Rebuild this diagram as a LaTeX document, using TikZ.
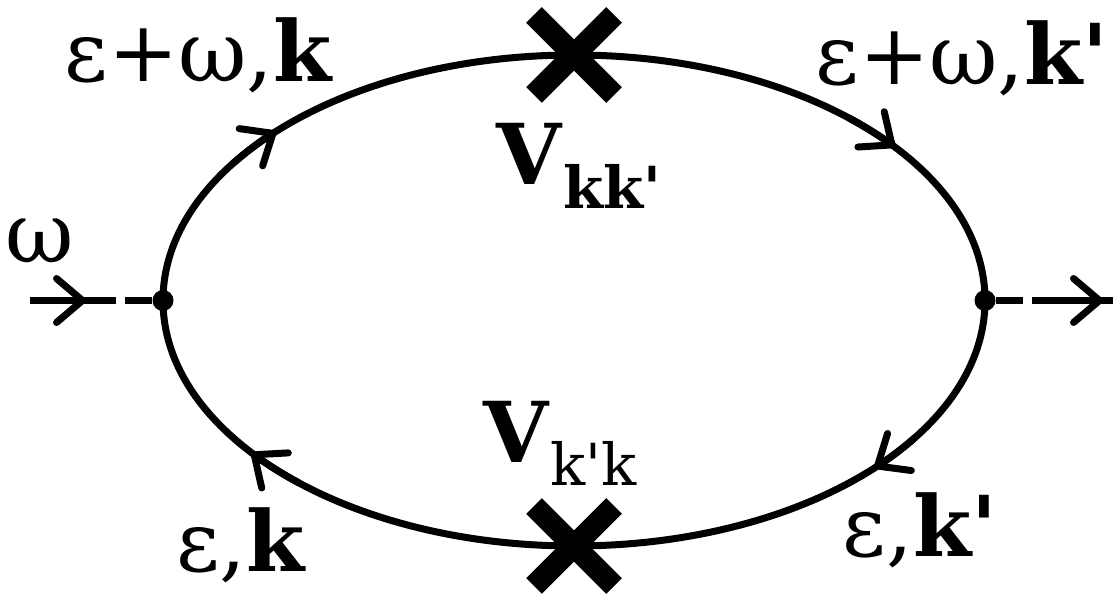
\documentclass[tikz,border=0pt]{standalone}
\usepackage{fontspec}
\setmainfont{DejaVu Serif}
\usetikzlibrary{arrows.meta,shapes.misc}
\begin{document}
\begin{tikzpicture}[x=1pt,y=1pt,
  prop/.style={line width=7pt},
  barb/.style={-{Straight Barb[round,length=26pt,width=44pt]}, line width=7pt},
  vert/.style={circle,fill,inner sep=0pt,minimum size=21pt},
  imp/.style={cross out,draw,line width=22pt,minimum size=58pt,inner sep=0pt},
  lbl/.style={font=\fontsize{84}{90}\selectfont, inner sep=0pt, anchor=base},
  dashline/.style={line width=7pt,dash pattern=on 27pt off 9pt},
]
\useasboundingbox (0,0) rectangle (1113,594);
\coordinate (C) at (574,293.5);
% loop
\draw[prop] (C) ellipse [x radius=411, y radius=245.5];
% propagator arrows
\draw[barb] ([shift={(146:411 and 245.5)}]C) arc[start angle=146,end angle=136.5,x radius=411,y radius=245.5];
\draw[barb] ([shift={(48:411 and 245.5)}]C) arc[start angle=48,end angle=38.7,x radius=411,y radius=245.5];
\draw[barb] ([shift={(-34:411 and 245.5)}]C) arc[start angle=-34,end angle=-43,x radius=411,y radius=245.5];
\draw[barb] ([shift={(228:411 and 245.5)}]C) arc[start angle=228,end angle=218.3,x radius=411,y radius=245.5];
% vertices
\node[vert] (L) at (163,293.5) {};
\node[vert] (R) at (985,293.5) {};
% impurity crosses
\node[imp] (T) at (574,539) {};
\node[imp] (B) at (574,48) {};
% external lines
\coordinate (win) at (30,293.5);
\coordinate (lm) at (92,293.5);
\coordinate (ltip) at (86,293.5);
\coordinate (rm) at (1057,293.5);
\coordinate (rtip) at (1103,293.5);
\coordinate (wout) at (1113,293.5);
\draw[dashline] (L) -- (lm);
\draw[prop] (win) -- (lm);
\draw[barb] (win) -- (ltip);
\draw[dashline] (R) -- (rm);
\draw[prop] (rm) -- (wout);
\draw[barb] (rm) -- (rtip);
% labels
\node[lbl] (l1) at (199,512) {ε+ω,\textbf{k}};
\node[lbl] (l2) at (962,509) {ε+ω,\textbf{k\textquotesingle}};
\node[lbl] (l3) at (40,331) {ω};
\node[lbl] (l4) at (579,409) {\textbf{V}\raisebox{-24pt}{\fontsize{58}{60}\selectfont\textbf{kk\textquotesingle}}};
\node[lbl] (l5) at (560,131) {\textbf{V}\raisebox{-23pt}{\fontsize{58}{60}\selectfont k\textquotesingle k}};
\node[lbl] (l6) at (920,37) {ε,\textbf{k\textquotesingle}};
\node[lbl] (l7) at (241,22) {ε,\textbf{k}};
\end{tikzpicture}
\end{document}
